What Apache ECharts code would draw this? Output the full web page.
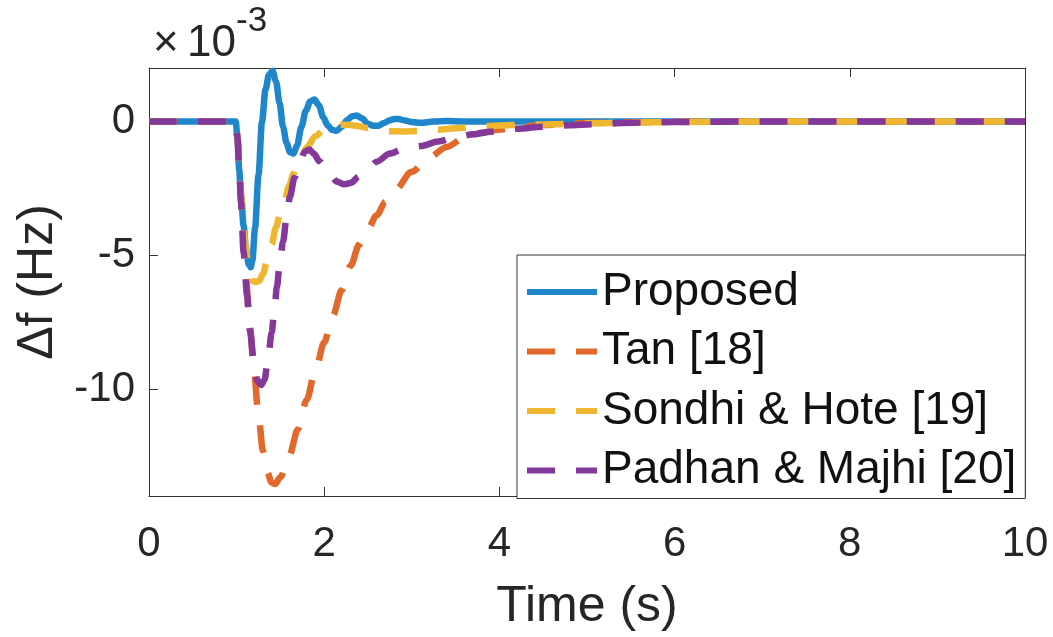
<!DOCTYPE html>
<html><head><meta charset="utf-8">
<script src="https://cdn.jsdelivr.net/npm/echarts@6/dist/echarts.min.js"></script>
<style>html,body{margin:0;padding:0;background:#fff}#c{width:1053px;height:637px}</style>
</head><body><div id="c"></div>
<script>
// ---- data (Δf in units of 1e-3 Hz) ----
const xTicks = [0, 2, 4, 6, 8, 10];
const yTicks = [-10, -5, 0];
const seriesNames = ['Proposed', 'Tan [18]', 'Sondhi & Hote [19]', 'Padhan & Majhi [20]'];

const proposedT = [0, 0.99, 1.01, 1.03, 1.05, 1.08, 1.11, 1.14, 1.16, 1.18, 1.21, 1.25, 1.29, 1.33, 1.37, 1.41, 1.45, 1.49, 1.53, 1.57, 1.61, 1.65, 1.69, 1.74, 1.79, 1.84, 1.89, 1.94, 1.99, 2.04, 2.09, 2.14, 2.2, 2.26, 2.32, 2.37, 2.43, 2.5, 2.56, 2.62, 2.68, 2.75, 2.8, 2.85, 2.92, 3.0, 3.1, 3.25, 3.4, 3.6, 4.0, 10];
const proposedF = [0, 0, -0.6, -1.8, -2.8, -3.9, -4.9, -5.35, -5.45, -5.2, -4.0, -2.0, 0.0, 1.2, 1.75, 1.9, 1.5, 0.7, -0.2, -0.8, -1.15, -1.2, -0.9, -0.2, 0.4, 0.75, 0.82, 0.6, 0.15, -0.15, -0.32, -0.35, -0.2, 0.05, 0.2, 0.22, 0.12, -0.08, -0.16, -0.16, -0.06, 0.05, 0.09, 0.09, 0.04, -0.02, -0.05, 0.0, 0.02, 0, 0, 0];

const tanT = [0, 0.99, 1.01, 1.03, 1.06, 1.1, 1.15, 1.2, 1.25, 1.3, 1.35, 1.4, 1.44, 1.5, 1.6, 1.7, 1.8, 1.9, 2.0, 2.1, 2.2, 2.3, 2.4, 2.5, 2.6, 2.7, 2.8, 3.0, 3.2, 3.4, 3.6, 3.8, 4.0, 4.2, 4.5, 5.0, 5.5, 6.0, 7, 10];
const tanF = [0, 0, -0.6, -1.6, -3.3, -5.5, -7.6, -9.4, -11.0, -12.3, -13.1, -13.5, -13.55, -13.3, -12.5, -11.5, -10.4, -9.3, -8.25, -7.25, -6.3, -5.4, -4.6, -4.0, -3.5, -3.0, -2.6, -1.88, -1.33, -0.95, -0.6, -0.42, -0.3, -0.21, -0.13, -0.06, -0.03, -0.01, 0, 0];

const sondhiT = [0, 0.99, 1.01, 1.03, 1.06, 1.1, 1.14, 1.18, 1.22, 1.26, 1.3, 1.35, 1.4, 1.45, 1.5, 1.55, 1.6, 1.65, 1.7, 1.75, 1.8, 1.9, 2.0, 2.1, 2.2, 2.3, 2.4, 2.5, 2.6, 2.75, 2.9, 3.1, 3.3, 3.5, 3.75, 4.0, 4.3, 4.6, 5.0, 5.5, 6.0, 7, 10];
const sondhiF = [0, 0, -0.6, -1.6, -3.0, -4.6, -5.5, -5.95, -6.0, -5.95, -5.7, -5.2, -4.6, -3.95, -3.4, -2.9, -2.4, -1.95, -1.55, -1.22, -0.97, -0.55, -0.3, -0.17, -0.12, -0.13, -0.18, -0.25, -0.3, -0.36, -0.37, -0.35, -0.31, -0.25, -0.19, -0.15, -0.12, -0.1, -0.07, -0.04, -0.02, 0, 0];

const padhanT = [0, 0.99, 1.01, 1.03, 1.05, 1.08, 1.12, 1.15, 1.2, 1.24, 1.28, 1.32, 1.36, 1.4, 1.43, 1.46, 1.49, 1.53, 1.57, 1.61, 1.66, 1.72, 1.78, 1.83, 1.88, 1.95, 2.05, 2.15, 2.23, 2.3, 2.4, 2.5, 2.6, 2.75, 2.9, 3.1, 3.3, 3.5, 3.7, 3.9, 4.2, 4.5, 4.8, 5.2, 5.6, 6.0, 7, 10];
const padhanF = [0, 0, -0.6, -1.8, -3.0, -4.9, -6.5, -7.8, -9.0, -9.7, -9.85, -9.65, -8.8, -7.9, -7.1, -6.2, -5.4, -4.5, -3.6, -2.8, -2.1, -1.5, -1.12, -1.05, -1.2, -1.5, -1.95, -2.25, -2.35, -2.3, -2.05, -1.75, -1.5, -1.2, -1.03, -0.92, -0.75, -0.6, -0.48, -0.38, -0.27, -0.2, -0.14, -0.08, -0.04, -0.02, 0, 0];

const colors = ['#1f86cc', '#e0692b', '#eeb72f', '#84399a'];

// ---- chart ----
const FONT = '"Liberation Sans", Arial, Helvetica, sans-serif';
const pairs = (t, f) => t.map((x, i) => [x, f[i]]);
const dataSets = [pairs(proposedT, proposedF), pairs(tanT, tanF), pairs(sondhiT, sondhiF), pairs(padhanT, padhanF)];

const chart = echarts.init(document.getElementById('c'), null, {renderer: 'canvas'});
const axisCol = '#333333';
const tickLabel = {fontSize: 42, color: '#262626', fontFamily: FONT};

chart.setOption({
  animation: false,
  backgroundColor: '#ffffff',
  grid: {left: 149, right: 28, top: 68, bottom: 137, containLabel: false},
  xAxis: [
    {type: 'value', min: 0, max: 10, interval: 2, position: 'bottom',
     name: 'Time (s)', nameLocation: 'middle', nameGap: 86,
     nameTextStyle: {fontSize: 50, color: '#262626', fontFamily: FONT},
     axisLine: {show: true, onZero: false, lineStyle: {color: axisCol, width: 1}},
     axisTick: {show: true, inside: true, length: 9, lineStyle: {color: axisCol}},
     axisLabel: Object.assign({margin: 27, formatter: v => String(v)}, tickLabel),
     splitLine: {show: false}},
    {type: 'value', min: 0, max: 10, interval: 2, position: 'top',
     axisLine: {show: true, onZero: false, lineStyle: {color: axisCol, width: 1}},
     axisTick: {show: true, inside: true, length: 9, lineStyle: {color: axisCol}},
     axisLabel: {show: false}, splitLine: {show: false}}
  ],
  yAxis: [
    {type: 'value', min: -14, max: 2, position: 'left',
     name: 'Δf (Hz)', nameLocation: 'middle', nameGap: 86, nameRotate: 90,
     nameTextStyle: {fontSize: 50, color: '#262626', fontFamily: FONT},
     axisLine: {show: true, onZero: false, lineStyle: {color: axisCol, width: 1}},
     axisTick: {show: true, inside: true, length: 9, customValues: yTicks, lineStyle: {color: axisCol}},
     axisLabel: Object.assign({margin: 14, customValues: yTicks}, tickLabel),
     splitLine: {show: false}},
    {type: 'value', min: -14, max: 2, position: 'right',
     axisLine: {show: true, onZero: false, lineStyle: {color: axisCol, width: 1}},
     axisTick: {show: true, inside: true, length: 9, customValues: yTicks, lineStyle: {color: axisCol}},
     axisLabel: {show: false}, splitLine: {show: false}}
  ],
  legend: {
    orient: 'vertical', left: 517, top: 255,
    data: seriesNames,
    backgroundColor: '#ffffff', borderColor: '#333333', borderWidth: 1, borderRadius: 0,
    padding: [12, 9, 3, 7],
    itemWidth: 70, itemHeight: 2, itemGap: 9.5,
    itemStyle: {opacity: 0},
    lineStyle: {width: 6},
    textStyle: {fontSize: 46, lineHeight: 50, color: '#111111', fontFamily: FONT}
  },
  graphic: [
    {type: 'text', left: 153, top: 22, silent: true,
     style: {text: '×', font: '44px ' + FONT, fill: '#262626'}},
    {type: 'text', left: 187, top: 22, silent: true,
     style: {text: '10', font: '44px ' + FONT, fill: '#262626'}},
    {type: 'text', left: 236, top: 4, silent: true,
     style: {text: '-3', font: '35px ' + FONT, fill: '#262626'}}
  ],
  series: seriesNames.map((name, i) => ({
    name: name, type: 'line', data: dataSets[i],
    xAxisIndex: 0, yAxisIndex: 0,
    symbol: 'none', smooth: 0.3, smoothMonotone: 'x',
    lineStyle: {color: colors[i], width: 6.5, type: i === 0 ? 'solid' : [28, 21], cap: 'butt'},
    itemStyle: {color: colors[i]},
    z: 2 + i
  }))
});
</script>
</body></html>
